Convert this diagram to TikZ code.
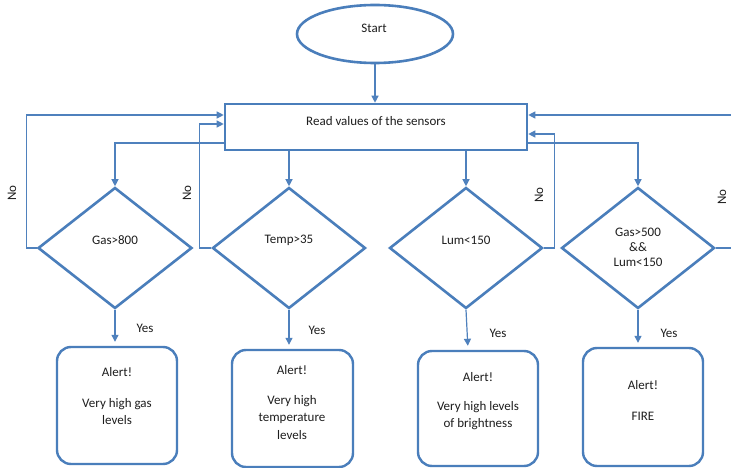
\documentclass[tikz,border=0pt]{standalone}
\usepackage{fontspec}
\setmainfont{Carlito}
\usetikzlibrary{shapes.geometric,arrows.meta,calc}
\definecolor{bl}{RGB}{74,126,187}
\definecolor{bl2}{RGB}{79,129,189}
\definecolor{tx}{RGB}{30,30,30}
\begin{document}
\begin{tikzpicture}[x=1pt,y=-1pt,
  outl/.style={draw=bl, line width=2.6pt, fill=white},
  conn/.style={draw=bl2, line width=1.2pt, -{Triangle[length=7pt,width=7pt]}},
  txt/.style={text=tx, font=\fontsize{13}{17}\selectfont, align=center, inner sep=0pt},
  dia/.style={outl, diamond, minimum width=154pt, minimum height=121pt, inner sep=0pt},
  alertbox/.style={outl, rectangle, rounded corners=14pt, minimum width=120pt, minimum height=117pt, line width=2.4pt}]
\clip (0,0) rectangle (731,468);
\fill[white] (0,0) rectangle (731,468);

% shapes
\node[outl, ellipse, minimum width=156pt, minimum height=58pt] (start) at (375,34) {};
\node[txt] (starttxt) at (374,28) {Start};
\node[outl, rectangle, minimum width=302pt, minimum height=46pt] (read) at (376,127) {};
\node[txt] (readtxt) at (376,121) {Read values of the sensors};

\node[dia] (gas) at (115,248) {};
\node[dia, minimum width=153pt] (temp) at (289,248) {};
\node[dia, minimum width=153pt] (lum) at (466,248) {};
\node[dia, minimum width=153pt] (fire) at (638,248) {};
\node[txt] (gastxt) at (115,240) {Gas>800};
\node[txt] (temptxt) at (289,240) {Temp>35};
\node[txt] (lumtxt) at (466,240) {Lum<150};
\node[txt, font=\fontsize{13}{15}\selectfont] (firetxt) at (638,247) {Gas>500\\\&\&\\Lum<150};

\node[alertbox] (galert) at (117,405.5) {};
\node[alertbox, minimum width=121pt] (talert) at (292.5,408.5) {};
\node[alertbox, minimum height=115pt] (lalert) at (478,408.5) {};
\node[alertbox, minimum height=118pt] (falert) at (643,407) {};
\node[txt] (gatxt) at (117,396) {Alert!\\[14pt]Very high gas\\levels};
\node[txt] (tatxt) at (292,403) {Alert!\\[13pt]Very high\\temperature\\[1pt]levels};
\node[txt] (latxt) at (478,401.5) {Alert!\\[12pt]Very high levels\\of brightness};
\node[txt] (fatxt) at (643,400.5) {Alert!\\[14pt]FIRE};

% helper levels
\coordinate (y115) at (0,115);
\coordinate (y124) at (0,124);
\coordinate (y134) at (0,134);
\coordinate (y143) at (0,143);

% connectors
\draw[conn] (start.south) -- (start.south |- read.north);
\draw[conn] (read.west |- y143) -| (gas.north);
\draw[conn] (read.south -| temp.north) -- (temp.north);
\draw[conn] (read.south -| lum.north) -- (lum.north);
\draw[conn] (read.east |- y143) -| (fire.north);

\draw[conn] (gas.west) -- ++(-10,0) |- (read.west |- y115);
\draw[conn] (temp.west) -- ++(-12,0) |- (read.west |- y124);
\draw[conn] (lum.east) -- ++(11,0) |- (read.east |- y134);
\draw[conn] (fire.east) -- ++(30,0) |- (read.east |- y115);

\draw[conn, shorten >=4pt] (gas.south) -- (gas.south |- galert.north);
\draw[conn, shorten >=4pt] (temp.south) -- (temp.south |- talert.north);
\draw[conn, shorten >=4pt] (lum.south) -- ($(lum.south |- lalert.north)+(2,0)$);
\draw[conn, shorten >=4pt] (fire.south) -- (fire.south |- falert.north);

% labels
\node[txt, rotate=90] (no1) at (12,193) {No};
\node[txt, rotate=90] (no2) at (187,193) {No};
\node[txt, rotate=90] (no3) at (539,195) {No};
\node[txt, rotate=90] (no4) at (722,197) {No};
\node[txt] (yes1) at (145,328) {Yes};
\node[txt] (yes2) at (317,330) {Yes};
\node[txt] (yes3) at (498,333) {Yes};
\node[txt] (yes4) at (669,333) {Yes};
\end{tikzpicture}
\end{document}
